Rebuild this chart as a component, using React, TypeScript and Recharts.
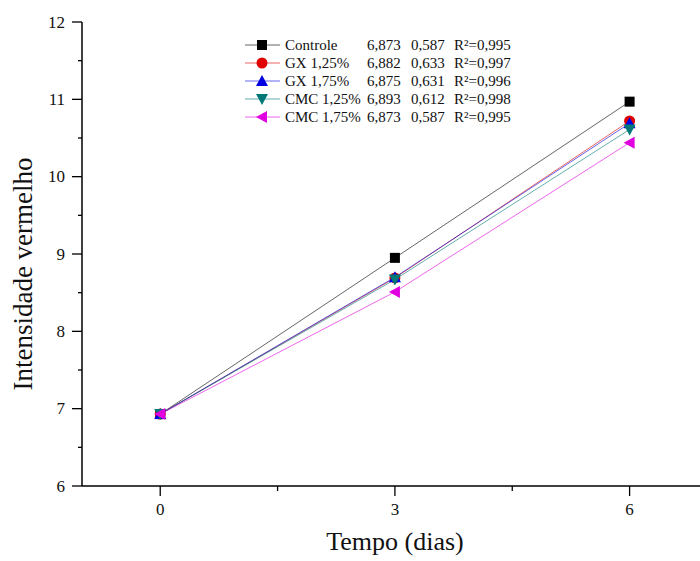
import React from 'react';
import { LineChart, Line, XAxis, YAxis, Legend, Label } from 'recharts';

const days = [0, 3, 6];
const controle = [6.93, 8.95, 10.97];
const gx125 = [6.93, 8.69, 10.72];
const gx175 = [6.93, 8.70, 10.69];
const cmc125 = [6.93, 8.67, 10.61];
const cmc175 = [6.93, 8.51, 10.44];

const seriesKeys = ['controle', 'gx125', 'gx175', 'cmc125', 'cmc175'];
const seriesNames = ['Controle', 'GX 1,25%', 'GX 1,75%', 'CMC 1,25%', 'CMC 1,75%'];
const seriesColors = ['#000000', '#e00000', '#0000e0', '#007878', '#e000e0'];
const seriesShapes = ['square', 'circle', 'up', 'down', 'left'];
const intercepts = ['6,873', '6,882', '6,875', '6,893', '6,873'];
const slopes = ['0,587', '0,633', '0,631', '0,612', '0,587'];
const r2s = ['R²=0,995', 'R²=0,997', 'R²=0,996', 'R²=0,998', 'R²=0,995'];

const xTicks = [0, 1.5, 3, 4.5, 6];
const yTicks = [6, 6.5, 7, 7.5, 8, 8.5, 9, 9.5, 10, 10.5, 11, 11.5, 12];

const data = days.map((d, i) => ({
  dia: d,
  controle: controle[i],
  gx125: gx125[i],
  gx175: gx175[i],
  cmc125: cmc125[i],
  cmc175: cmc175[i],
}));

const FONT = "'Liberation Serif', 'Times New Roman', serif";

function Marker({ shape, cx, cy, color }: { shape: string; cx: number; cy: number; color: string }) {
  if (cx == null || cy == null) return null;
  switch (shape) {
    case 'square':
      return <rect x={cx - 5} y={cy - 5} width={10} height={10} fill={color} />;
    case 'circle':
      return <circle cx={cx} cy={cy} r={5.5} fill={color} />;
    case 'up':
      return <polygon points={`${cx},${cy - 6} ${cx + 6},${cy + 5} ${cx - 6},${cy + 5}`} fill={color} />;
    case 'down':
      return <polygon points={`${cx},${cy + 6} ${cx + 6},${cy - 5} ${cx - 6},${cy - 5}`} fill={color} />;
    case 'left':
      return <polygon points={`${cx - 6},${cy} ${cx + 5},${cy - 6} ${cx + 5},${cy + 6}`} fill={color} />;
    default:
      return null;
  }
}

const YTick = (props: any) => {
  const { x, y, payload } = props;
  const major = Number.isInteger(payload.value);
  return (
    <g>
      <line x1={x - (major ? 10 : 4)} x2={x} y1={y} y2={y} stroke="#000" strokeWidth={1.3} />
      {major && (
        <text x={x - 17} y={y} textAnchor="end" dominantBaseline="central" fontFamily={FONT} fontSize={17} fill="#111">
          {payload.value}
        </text>
      )}
    </g>
  );
};

const XTick = (props: any) => {
  const { x, y, payload } = props;
  const major = Number.isInteger(payload.value);
  return (
    <g>
      <line x1={x} x2={x} y1={y} y2={y + (major ? 10 : 5)} stroke="#000" strokeWidth={1.3} />
      {major && (
        <text x={x} y={y + 23} textAnchor="middle" dominantBaseline="central" fontFamily={FONT} fontSize={17} fill="#111">
          {payload.value}
        </text>
      )}
    </g>
  );
};

const LegendContent = () => (
  <svg width={300} height={100} style={{ display: 'block' }}>
    {seriesNames.map((name, i) => {
      const y = 11 + i * 18;
      return (
        <g key={name}>
          <line x1={5} x2={40} y1={y} y2={y} stroke={seriesColors[i]} strokeWidth={1} strokeOpacity={0.6} />
          <Marker shape={seriesShapes[i]} cx={22} cy={y} color={seriesColors[i]} />
          <text x={45} y={y} dominantBaseline="central" fontFamily={FONT} fontSize={15} fill="#111">{name}</text>
          <text x={127} y={y} dominantBaseline="central" fontFamily={FONT} fontSize={15} fill="#111">{intercepts[i]}</text>
          <text x={171} y={y} dominantBaseline="central" fontFamily={FONT} fontSize={15} fill="#111">{slopes[i]}</text>
          <text x={214} y={y} dominantBaseline="central" fontFamily={FONT} fontSize={15} fill="#111">{r2s[i]}</text>
        </g>
      );
    })}
  </svg>
);

export default function App() {
  return (
    <div style={{ position: 'absolute', left: 0, top: 0, width: 700, height: 561, background: '#fff' }}>
      <LineChart width={700} height={561} data={data} margin={{ top: 22, right: 0, left: 0, bottom: 0 }}>
        <XAxis
          dataKey="dia"
          type="number"
          domain={[-1, 6.9]}
          ticks={xTicks}
          interval={0}
          height={75}
          tickSize={0}
          tickMargin={0}
          tickLine={false}
          tick={<XTick />}
          axisLine={{ stroke: '#000', strokeWidth: 1.5 }}
          allowDataOverflow
        >
          <Label
            content={(p: any) => {
              const vb = p.viewBox;
              return (
                <text x={vb.x + vb.width / 2 + 4} y={vb.y + 64} textAnchor="middle" fontFamily={FONT} fontSize={26} fill="#111">
                  Tempo (dias)
                </text>
              );
            }}
          />
        </XAxis>
        <YAxis
          type="number"
          domain={[6, 12]}
          ticks={yTicks}
          interval={0}
          width={82}
          tickSize={0}
          tickMargin={0}
          tickLine={false}
          tick={<YTick />}
          axisLine={{ stroke: '#000', strokeWidth: 1.5 }}
        >
          <Label
            content={(p: any) => {
              const vb = p.viewBox;
              const cy = vb.y + vb.height / 2 + 20;
              return (
                <text x={23} y={cy} transform={`rotate(-90, 23, ${cy})`} textAnchor="middle" dominantBaseline="central" fontFamily={FONT} fontSize={27} fill="#111">
                  Intensidade vermelho
                </text>
              );
            }}
          />
        </YAxis>
        <Legend
          layout="horizontal"
          verticalAlign="middle"
          align="center"
          content={<LegendContent />}
          wrapperStyle={{ position: 'absolute', left: 240, top: 34, width: 300, height: 100 }}
        />
        {seriesKeys.map((k, i) => (
          <Line
            key={k}
            dataKey={k}
            name={seriesNames[i]}
            stroke={seriesColors[i]}
            strokeOpacity={0.6}
            strokeWidth={1}
            isAnimationActive={false}
            dot={(p: any) => <Marker key={`${k}-${p.index}`} shape={seriesShapes[i]} cx={p.cx} cy={p.cy} color={seriesColors[i]} />}
            activeDot={false}
          />
        ))}
      </LineChart>
    </div>
  );
}
